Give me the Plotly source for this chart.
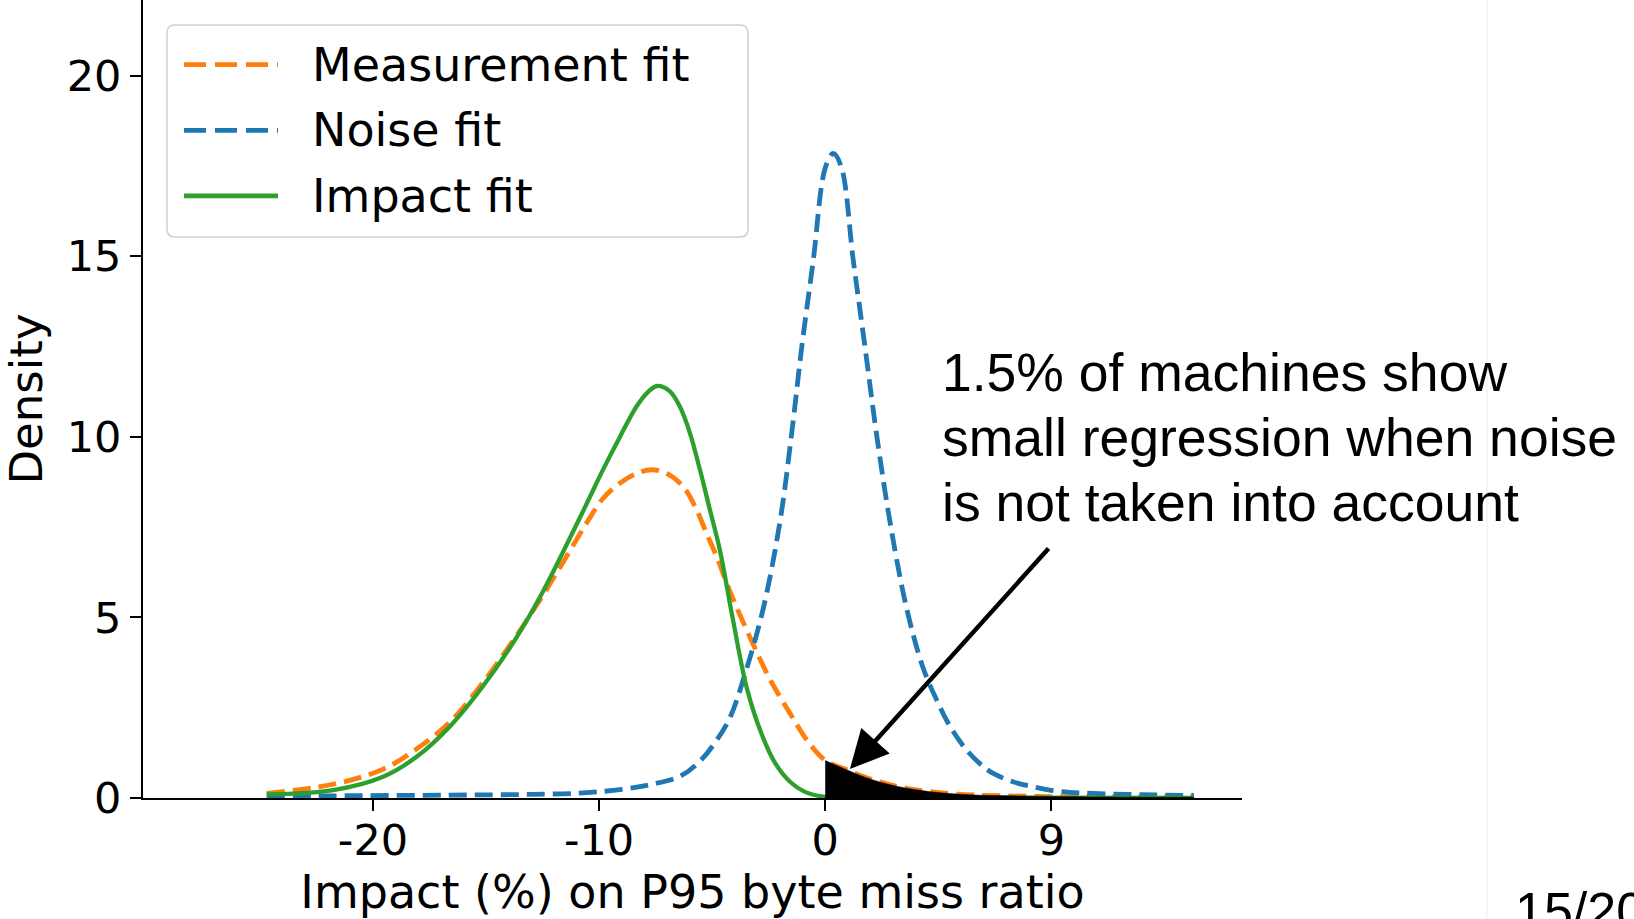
import plotly.graph_objects as go

# ---------------- data ----------------
meas_x = [-24.7, -21.76, -19.55, -18.07, -16.6, -15.13, -13.65, -12.4, -11.29, -10.55, -9.82, -9.08,
          -8.34, -7.68, -7.01, -6.28, -5.69, -5.25, -4.8, -4.2, -3.4, -2.5, -2.0, -1.56, -0.82,
          0.0, 0.8, 2.12, 3.6, 5.81, 8.9, 12.0, 16.3]
meas_y = [0.13, 0.38, 0.8, 1.36, 2.1, 3.2, 4.5, 5.7, 6.85, 7.62, 8.3, 8.72,
          8.99, 9.09, 8.99, 8.62, 7.98, 7.33, 6.68, 5.7, 4.55, 3.35, 2.8, 2.35, 1.61,
          1.04, 0.82, 0.5, 0.27, 0.11, 0.05, 0.03, 0.02]

noise_x = [-24.7, -21.8, -16.6, -13.0, -10.7, -9.0, -7.75, -6.43, -5.54, -4.8, -4.21, -3.55, -2.74,
           -2.0, -1.49, -1.04, -0.53, 0.0, 0.35, 0.7, 1.24, 1.76, 2.27, 2.86, 3.6, 4.33, 4.93, 5.52,
           6.25, 6.99, 7.43, 8.3, 9.2, 10.38, 11.84, 14.0, 16.3]
noise_y = [0.05, 0.06, 0.08, 0.10, 0.14, 0.24, 0.37, 0.6, 1.02, 1.6, 2.23, 3.43, 5.25,
           7.66, 10.07, 12.48, 14.89, 17.45, 17.85, 17.5, 14.89, 12.48, 10.07, 7.66, 5.25, 3.6, 2.71, 1.98,
           1.33, 0.87, 0.68, 0.45, 0.31, 0.18, 0.13, 0.09, 0.07]

impact_x = [-24.7, -21.76, -19.55, -18.07, -16.6, -15.13, -13.65, -12.5, -11.29, -10.55, -9.82, -9.08,
            -8.34, -7.83, -7.43, -6.87, -6.43, -5.98, -5.54, -5.1, -4.66, -4.1, -3.45, -2.8, -2.2,
            -1.56, -0.9, 0.0, 4.0, 16.3]
impact_y = [0.1, 0.22, 0.59, 1.14, 1.98, 3.1, 4.45, 5.7, 7.2, 8.15, 9.1, 10.0,
            10.85, 11.25, 11.41, 11.26, 10.84, 10.10, 9.09, 7.98, 6.87, 5.0, 3.0, 1.75, 0.95,
            0.45, 0.17, 0.03, 0.01, 0.0]

series_names = ["Measurement fit", "Noise fit", "Impact fit"]
series_colors = ["#ff7f0e", "#1f77b4", "#2ca02c"]

x_tickvals = [-20, -10, 0, 10]
x_ticktext = ["-20", "-10", "0", "9"]
y_tickvals = [0, 5, 10, 15, 20]
y_ticktext = ["0", "5", "10", "15", "20"]

note_lines = ["1.5% of machines show", "small regression when noise", "is not taken into account"]
page_label = "15/20"

# ---------------- layout geometry ----------------
W, H = 1634, 919
L, R, T, B = 143, 392, 0, 121
PW, PH = W - L - R, H - T - B
X_RANGE = [-30.17, 18.43]
Y_RANGE = [0, 22.1]


def pxx(xp):
    return (xp - L) / PW


def pxy(yp):
    return (T + PH - yp) / PH


AX_FONT = "DejaVu Sans"
NOTE_FONT = "Liberation Sans, Arial, sans-serif"
DASH = "18px,8px"
LW = 4.8

fig = go.Figure()

fig.add_trace(go.Scatter(x=meas_x, y=meas_y, mode="lines", name=series_names[0],
                         line=dict(color=series_colors[0], width=LW, dash=DASH, shape="spline"),
                         showlegend=False, hoverinfo="skip"))
fig.add_trace(go.Scatter(x=noise_x, y=noise_y, mode="lines", name=series_names[1],
                         line=dict(color=series_colors[1], width=LW, dash=DASH, shape="spline"),
                         showlegend=False, hoverinfo="skip"))
fig.add_trace(go.Scatter(x=impact_x, y=impact_y, mode="lines", name=series_names[2],
                         line=dict(color=series_colors[2], width=4.3, shape="spline"),
                         showlegend=False, hoverinfo="skip"))

# black shaded tail (measurement fit, x >= 0)
fill_x = [x for x in meas_x if x >= 0]
fill_y = [y for x, y in zip(meas_x, meas_y) if x >= 0]
fig.add_trace(go.Scatter(x=fill_x, y=fill_y, mode="lines", fill="tozeroy",
                         fillcolor="black", line=dict(color="black", width=0.5, shape="spline"),
                         showlegend=False, hoverinfo="skip"))

shapes = []
annotations = []

# ---- custom legend (matplotlib style) ----
bx0, bx1, by0, by1 = pxx(167), pxx(748), pxy(237), pxy(25)
rx, ry = 8 / PW, 8 / PH
path = (f"M {bx0+rx},{by0} L {bx1-rx},{by0} Q {bx1},{by0} {bx1},{by0+ry} "
        f"L {bx1},{by1-ry} Q {bx1},{by1} {bx1-rx},{by1} L {bx0+rx},{by1} "
        f"Q {bx0},{by1} {bx0},{by1-ry} L {bx0},{by0+ry} Q {bx0},{by0} {bx0+rx},{by0} Z")
shapes.append(dict(type="path", path=path, xref="paper", yref="paper",
                   line=dict(color="#d0d0d0", width=1.5), fillcolor="rgba(255,255,255,0.8)"))
leg_rows = [64.6, 130.3, 195.9]
leg_dash = ["22px,9px", "22px,9px", "solid"]
for name, col, yy, dd in zip(series_names, series_colors, leg_rows, leg_dash):
    shapes.append(dict(type="line", xref="paper", yref="paper",
                       x0=pxx(184), x1=pxx(278), y0=pxy(yy), y1=pxy(yy),
                       line=dict(color=col, width=LW, dash=dd)))
    annotations.append(dict(text=name, xref="paper", yref="paper", x=pxx(310), y=pxy(yy),
                            xanchor="left", yanchor="middle", showarrow=False,
                            font=dict(family=AX_FONT, size=46, color="black")))

# faint slide divider line
shapes.append(dict(type="line", xref="paper", yref="paper", x0=pxx(1487), x1=pxx(1487),
                   y0=pxy(0), y1=pxy(919), line=dict(color="#ececec", width=1)))

# ---- note text ----
for line, yc in zip(note_lines, [372, 437, 502]):
    annotations.append(dict(text=line, xref="paper", yref="paper", x=pxx(940), y=pxy(yc),
                            xanchor="left", yanchor="middle", showarrow=False,
                            font=dict(family=NOTE_FONT, size=53.5, color="black")))

# ---- arrow ----
annotations.append(dict(text="", x=1.09, y=0.8, xref="x", yref="y", showarrow=True,
                        ax=200, ay=-222, arrowhead=2, arrowsize=1.7, arrowwidth=4.5,
                        arrowcolor="black", standoff=0))

# ---- page number ----
annotations.append(dict(text=page_label, xref="paper", yref="paper", x=pxx(1513), y=pxy(880),
                        xanchor="left", yanchor="top", showarrow=False,
                        font=dict(family=NOTE_FONT, size=52, color="black")))

fig.update_layout(
    width=W, height=H,
    margin=dict(l=L, r=R, t=T, b=B, pad=0),
    paper_bgcolor="white", plot_bgcolor="white",
    showlegend=False,
    shapes=shapes, annotations=annotations,
    xaxis=dict(range=X_RANGE, tickvals=x_tickvals, ticktext=x_ticktext,
               showline=True, linecolor="black", linewidth=2, mirror=False,
               ticks="outside", ticklen=11, tickwidth=2, tickcolor="black",
               ticklabelstandoff=-8,
               showgrid=False, zeroline=False,
               tickfont=dict(family=AX_FONT, size=43, color="black"),
               title=dict(text="Impact (%) on P95 byte miss ratio", standoff=6,
                          font=dict(family=AX_FONT, size=46, color="black"))),
    yaxis=dict(range=Y_RANGE, tickvals=y_tickvals, ticktext=y_ticktext,
               showline=True, linecolor="black", linewidth=2, mirror=False,
               ticks="outside", ticklen=11, tickwidth=2, tickcolor="black",
               showgrid=False, zeroline=False,
               tickfont=dict(family=AX_FONT, size=43, color="black"),
               title=dict(text="Density", standoff=14,
                          font=dict(family=AX_FONT, size=45, color="black"))),
)

fig.write_html("out.html")
